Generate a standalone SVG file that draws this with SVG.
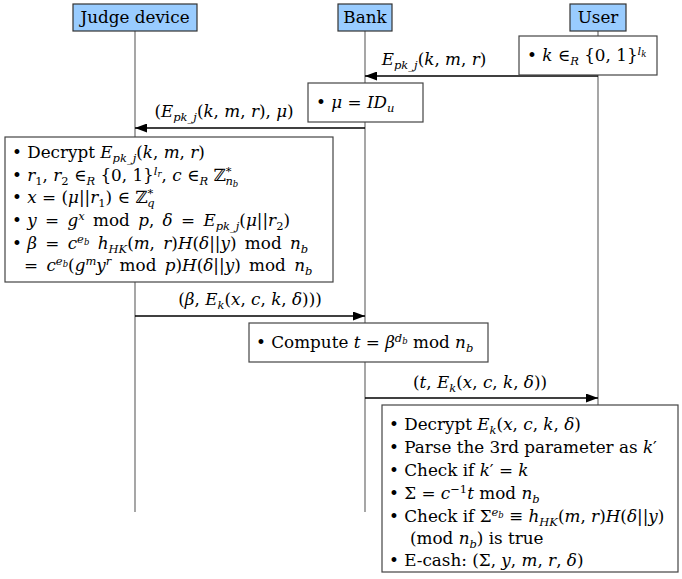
<svg xmlns="http://www.w3.org/2000/svg" width="682" height="579" viewBox="0 0 682 579" font-family="DejaVu Serif">
<style>
text{font-size:16.8px;fill:#000}
.i{font-style:italic}
.sub{font-size:11.5px;baseline-shift:-3.5px}
.sup{font-size:11.5px;baseline-shift:6.5px}
.sub2{font-size:8.5px;baseline-shift:-2.5px}
.ws{word-spacing:3px}
.hdr{fill:#99ccff;stroke:#333;stroke-width:1.2}
.box{fill:#fff;stroke:#444;stroke-width:1.2}
.life{stroke:#777;stroke-width:1.3}
.msg{stroke:#000;stroke-width:1.3;marker-end:url(#ah)}
.c{text-anchor:middle}
</style>
<defs>
<marker id="ah" viewBox="0 0 12 9" refX="12" refY="4.5" markerWidth="12" markerHeight="9" markerUnits="userSpaceOnUse" orient="auto">
<path d="M0,0 L12,4.5 L0,9 z" fill="#000"/>
</marker>
</defs>
<g id="lifelines">
<line class="life" x1="135" y1="31" x2="135" y2="512"/>
<line class="life" x1="365" y1="31" x2="365" y2="512"/>
<line class="life" x1="598" y1="31" x2="598" y2="405"/>
</g>
<g id="judge">
<rect class="hdr" x="73" y="4" width="124" height="27"/>
<text class="c" x="135" y="23">Judge device</text>
</g>
<g id="bank">
<rect class="hdr" x="338" y="4" width="54" height="27"/>
<text class="c" x="365" y="23">Bank</text>
</g>
<g id="user">
<rect class="hdr" x="570" y="4" width="56" height="27"/>
<text class="c" x="598" y="23">User</text>
</g>
<g id="connectors">
<line class="msg" x1="598" y1="76" x2="365" y2="76"/>
<text class="c" x="434" y="65"><tspan class="i">E</tspan><tspan class="sub i">pk_j</tspan>(<tspan class="i">k</tspan>, <tspan class="i">m</tspan>, <tspan class="i">r</tspan>)</text>
<line class="msg" x1="365" y1="128" x2="135" y2="128"/>
<text class="c" x="224" y="117">(<tspan class="i">E</tspan><tspan class="sub i">pk_j</tspan>(<tspan class="i">k</tspan>, <tspan class="i">m</tspan>, <tspan class="i">r</tspan>), <tspan class="i">μ</tspan>)</text>
<line class="msg" x1="135" y1="316" x2="365" y2="316"/>
<text class="c" x="250" y="305">(<tspan class="i">β</tspan>, <tspan class="i">E</tspan><tspan class="sub i">k</tspan>(<tspan class="i">x</tspan>, <tspan class="i">c</tspan>, <tspan class="i">k</tspan>, <tspan class="i">δ</tspan>)))</text>
<line class="msg" x1="365" y1="398" x2="598" y2="398"/>
<text class="c" x="480" y="388">(<tspan class="i">t</tspan>, <tspan class="i">E</tspan><tspan class="sub i">k</tspan>(<tspan class="i">x</tspan>, <tspan class="i">c</tspan>, <tspan class="i">k</tspan>, <tspan class="i">δ</tspan>))</text>
</g>
<g id="user-gen">
<rect class="box" x="519" y="36" width="138" height="39"/>
<text x="527" y="61">• <tspan class="i">k</tspan> ∈<tspan class="sub i">R</tspan> {0, 1}<tspan class="sup i">l<tspan class="sub2">k</tspan></tspan></text>
</g>
<g id="bank-id">
<rect class="box" x="308" y="83" width="115" height="39"/>
<text x="316" y="108">• <tspan class="i">μ</tspan> = <tspan class="i">ID</tspan><tspan class="sub i">u</tspan></text>
</g>
<g id="judge-compute">
<rect class="box" x="5" y="137" width="328" height="145"/>
<text x="12" y="158">• Decrypt <tspan class="i">E</tspan><tspan class="sub i">pk_j</tspan>(<tspan class="i">k</tspan>, <tspan class="i">m</tspan>, <tspan class="i">r</tspan>)</text>
<text x="12" y="181">• <tspan class="i">r</tspan><tspan class="sub">1</tspan>, <tspan class="i">r</tspan><tspan class="sub">2</tspan> ∈<tspan class="sub i">R</tspan> {0, 1}<tspan class="sup i">l<tspan class="sub2">r</tspan></tspan>, <tspan class="i">c</tspan> ∈<tspan class="sub i">R</tspan> ℤ<tspan class="sup">*</tspan><tspan class="sub i" dx="-6">n<tspan class="sub2">b</tspan></tspan></text>
<text x="12" y="203">• <tspan class="i">x</tspan> = (<tspan class="i">μ</tspan>||<tspan class="i">r</tspan><tspan class="sub">1</tspan>) ∈ ℤ<tspan class="sup">*</tspan><tspan class="sub i" dx="-6">q</tspan></text>
<text x="12" y="226">• <tspan class="ws"><tspan class="i">y</tspan> = <tspan class="i">g</tspan><tspan class="sup i">x</tspan> mod <tspan class="i">p</tspan>, <tspan class="i">δ</tspan> = <tspan class="i">E</tspan><tspan class="sub i">pk_j</tspan>(<tspan class="i">μ</tspan>||<tspan class="i">r</tspan><tspan class="sub">2</tspan>)</tspan></text>
<text x="12" y="249">• <tspan class="ws"><tspan class="i">β</tspan> = <tspan class="i">c</tspan><tspan class="sup i">e<tspan class="sub2">b</tspan></tspan> <tspan class="i">h</tspan><tspan class="sub i">HK</tspan>(<tspan class="i">m</tspan>, <tspan class="i">r</tspan>)<tspan class="i">H</tspan>(<tspan class="i">δ</tspan>||<tspan class="i">y</tspan>) mod <tspan class="i">n</tspan><tspan class="sub i">b</tspan></tspan></text>
<text class="ws" x="24" y="271">= <tspan class="i">c</tspan><tspan class="sup i">e<tspan class="sub2">b</tspan></tspan>(<tspan class="i">g</tspan><tspan class="sup i">m</tspan><tspan class="i">y</tspan><tspan class="sup i">r</tspan> mod <tspan class="i">p</tspan>)<tspan class="i">H</tspan>(<tspan class="i">δ</tspan>||<tspan class="i">y</tspan>) mod <tspan class="i">n</tspan><tspan class="sub i">b</tspan></text>
</g>
<g id="bank-compute">
<rect class="box" x="249" y="323" width="239" height="39"/>
<text x="256" y="348">• Compute <tspan class="i">t</tspan> = <tspan class="i">β</tspan><tspan class="sup i">d<tspan class="sub2">b</tspan></tspan> mod <tspan class="i">n</tspan><tspan class="sub i">b</tspan></text>
</g>
<g id="user-verify">
<rect class="box" x="382" y="405" width="296" height="167"/>
<text x="389" y="430">• Decrypt <tspan class="i">E</tspan><tspan class="sub i">k</tspan>(<tspan class="i">x</tspan>, <tspan class="i">c</tspan>, <tspan class="i">k</tspan>, <tspan class="i">δ</tspan>)</text>
<text x="389" y="453">• Parse the 3rd parameter as <tspan class="i">k</tspan>′</text>
<text x="389" y="476">• Check if <tspan class="i">k</tspan>′ = <tspan class="i">k</tspan></text>
<text x="389" y="499">• Σ = <tspan class="i">c</tspan><tspan class="sup">−1</tspan><tspan class="i">t</tspan> mod <tspan class="i">n</tspan><tspan class="sub i">b</tspan></text>
<text x="389" y="522">• Check if Σ<tspan class="sup i">e<tspan class="sub2">b</tspan></tspan> ≡ <tspan class="i">h</tspan><tspan class="sub i">HK</tspan>(<tspan class="i">m</tspan>, <tspan class="i">r</tspan>)<tspan class="i">H</tspan>(<tspan class="i">δ</tspan>||<tspan class="i">y</tspan>)</text>
<text x="410" y="544">(mod <tspan class="i">n</tspan><tspan class="sub i">b</tspan>) is true</text>
<text x="389" y="566">• E-cash: (Σ, <tspan class="i">y</tspan>, <tspan class="i">m</tspan>, <tspan class="i">r</tspan>, <tspan class="i">δ</tspan>)</text>
</g>
</svg>
